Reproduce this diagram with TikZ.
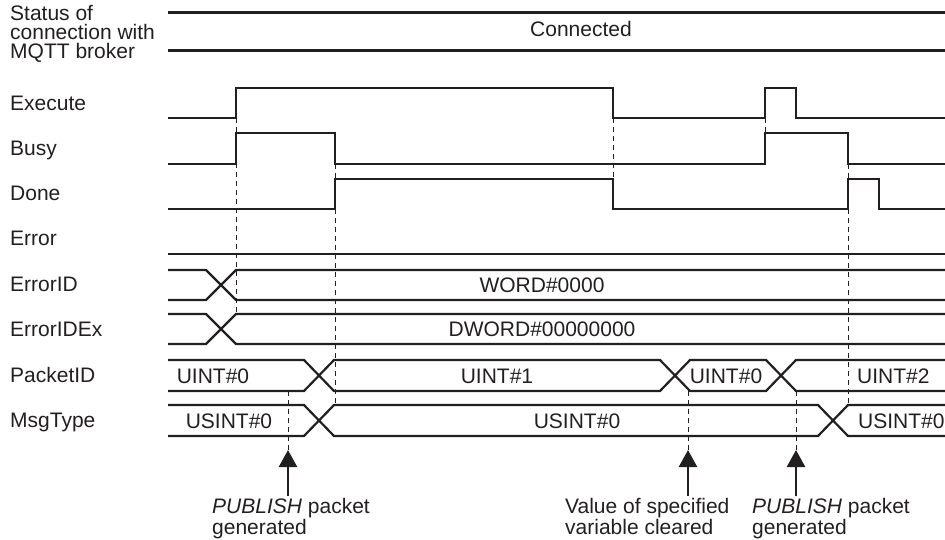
\documentclass[tikz,border=0pt]{standalone}
\usepackage{fontspec}
\setmainfont{Liberation Sans}
\usetikzlibrary{arrows.meta}
\definecolor{ink}{HTML}{231F20}
\tikzset{
  wave/.style={draw=ink, line width=2.2pt, line join=miter},
  guide/.style={draw=ink, line width=0.8pt, dash pattern=on 5pt off 4pt},
  lbl/.style={anchor=base west, inner sep=0pt, text=ink, font=\fontsize{21}{19}\selectfont},
  val/.style={anchor=base, inner sep=0pt, text=ink, font=\fontsize{21}{19}\selectfont},
  valw/.style={anchor=base west, inner sep=0pt, text=ink, font=\fontsize{21}{19}\selectfont},
  note/.style={anchor=base west, inner sep=0pt, text=ink, align=left, font=\fontsize{21}{17}\selectfont},
  uparrow/.style={draw=ink, line width=2.6pt, -{Triangle[length=17pt,width=18pt]}, fill=ink}
}
\begin{document}
\begin{tikzpicture}[x=1pt, y=-1pt]
\useasboundingbox (0,0) rectangle (945,540);
% labels
\node[lbl] (l1) at (10,21) {Status of};
\node[lbl] (l2) at (10,40) {connection with};
\node[lbl] (l3) at (10,59) {MQTT broker};
\node[lbl] (lex) at (10,110.5) {Execute};
\node[lbl] (lbu) at (10,156) {Busy};
\node[lbl] (ldo) at (10,200.5) {Done};
\node[lbl] (ler) at (10,246) {Error};
\node[lbl] (leid) at (10,291) {ErrorID};
\node[lbl] (leidx) at (10,336) {ErrorIDEx};
\node[lbl] (lpid) at (10,382) {PacketID};
\node[lbl] (lmt) at (10,427) {MsgType};

% guides (drawn first)
\draw[guide] (236,118) -- (236,314);
\draw[guide] (335,164) -- (335,405);
\draw[guide] (613,118) -- (613,179);
\draw[guide] (765,118) -- (765,133);
\draw[guide] (848,164) -- (848,405);
\draw[guide] (288,391) -- (288,450);
\draw[guide] (688,391) -- (688,450);
\draw[guide] (796,391) -- (796,450);

% status
\draw[wave] (168,12.5) -- (945,12.5);
\draw[wave] (168,50.5) -- (945,50.5);
\node[val] (conn) at (581,37) {Connected};

% Execute
\draw[wave] (168,118) -- (236,118) -- (236,88) -- (613,88) -- (613,118) -- (765,118) -- (765,88) -- (796,88) -- (796,118) -- (945,118);
% Busy
\draw[wave] (168,164) -- (236,164) -- (236,133) -- (335,133) -- (335,164) -- (765,164) -- (765,133) -- (848,133) -- (848,164) -- (945,164);
% Done
\draw[wave] (168,209) -- (335,209) -- (335,179) -- (613,179) -- (613,209) -- (848,209) -- (848,179) -- (879,179) -- (879,209) -- (945,209);
% Error
\draw[wave] (168,254) -- (945,254);
% ErrorID
\draw[wave] (168,270) -- (206,270) -- (236,300) -- (945,300);
\draw[wave] (168,300) -- (206,300) -- (236,270) -- (945,270);
\node[val] (eid) at (542,292) {WORD\#0000};
% ErrorIDEx
\draw[wave] (168,314) -- (206,314) -- (236,344) -- (945,344);
\draw[wave] (168,344) -- (206,344) -- (236,314) -- (945,314);
\node[val] (eidx) at (542,336.5) {DWORD\#00000000};
% PacketID
\draw[wave] (168,360) -- (304,360) -- (334,391) -- (660,391) -- (690,360) -- (766,360) -- (796,391) -- (945,391);
\draw[wave] (168,391) -- (304,391) -- (334,360) -- (660,360) -- (690,391) -- (766,391) -- (796,360) -- (945,360);
\node[val] (p0) at (213,383) {UINT\#0};
\node[val] (p1) at (497,383) {UINT\#1};
\node[val] (p2) at (726,383) {UINT\#0};
\node[valw] (p3) at (857,383) {UINT\#2};
% MsgType
\draw[wave] (168,405) -- (304,405) -- (334,436) -- (818,436) -- (848,405) -- (945,405);
\draw[wave] (168,436) -- (304,436) -- (334,405) -- (818,405) -- (848,436) -- (945,436);
\node[val] (m0) at (229,428) {USINT\#0};
\node[val] (m1) at (577,428) {USINT\#0};
\node[valw] (m2) at (858,428) {USINT\#0};

% arrows
\coordinate (a1b) at (288,496);
\coordinate (a1t) at (288,450);
\coordinate (a2b) at (688,496);
\coordinate (a2t) at (688,450);
\coordinate (a3b) at (796,496);
\coordinate (a3t) at (796,450);
\draw[uparrow] (a1b) -- (a1t);
\draw[uparrow] (a2b) -- (a2t);
\draw[uparrow] (a3b) -- (a3t);

% notes
\node[note] (n1) at (212,534) {\textit{PUBLISH} packet\\generated};
\node[note] (n2) at (565,534) {Value of specified\\variable cleared};
\node[note] (n3) at (752,534) {\textit{PUBLISH} packet\\generated};
\end{tikzpicture}
\end{document}
